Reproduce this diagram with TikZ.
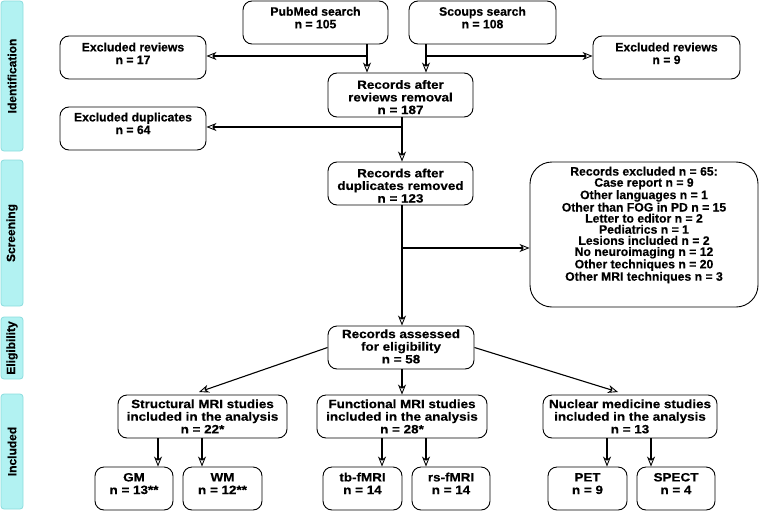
\documentclass[tikz,border=0pt]{standalone}
\usepackage{fontspec}
\setmainfont{Liberation Sans}[BoldFeatures={FakeBold=0.4}]
\newfontfamily\widefont{Liberation Sans}[FakeStretch=1.12,BoldFeatures={FakeBold=0.4}]
\usetikzlibrary{arrows.meta,calc}
\definecolor{barfill}{RGB}{178,242,242}
\definecolor{barline}{RGB}{140,220,222}
\begin{document}
\begin{tikzpicture}[x=1pt,y=-1pt,
  box/.style={draw, rounded corners=9pt, line width=0.9pt, align=center, inner sep=0pt,
    font=\widefont\bfseries\fontsize{12}{12.6}\selectfont},
  exbox/.style={box, font=\bfseries\fontsize{12.2}{12.6}\selectfont},
  sz/.style 2 args={minimum width=#1pt, minimum height=#2pt},
  tp/.style 2 args={text height=#1pt, text depth=#2pt},
  bar/.style={draw=barline, fill=barfill, rounded corners=3pt, line width=0.8pt, inner sep=0pt,
    rotate=90, minimum height=22pt, font=\bfseries\fontsize{12}{12}\selectfont},
  arr/.style={line width=1.1pt, -{Stealth[open, length=10pt, width=8pt, inset=3pt, line width=0.9pt]}}
]
\useasboundingbox (0,0) rectangle (759,511);

% side bars
\node[bar, minimum width=150pt] (bid) at (12,76) {Identification};
\node[bar, minimum width=146pt] (bsc) at (12,233) {Screening};
\node[bar, minimum width=62pt] (bel) at (12,348) {Eligibility};
\node[bar, minimum width=115pt] (bin) at (12,451.5) {Included};

% boxes
\node[exbox, sz={145}{43}, tp={20}{8.4}] (pub) at (315.5,22.5) {PubMed search\\n = 105};
\node[exbox, sz={147}{43}, tp={20}{8.4}] (sco) at (482.5,22.5) {Scoups search\\n = 108};
\node[exbox, sz={146}{43}, tp={22}{9}] (exl) at (133,57.5) {Excluded reviews\\n = 17};
\node[exbox, sz={147}{43}, tp={22}{9}] (exr) at (666.5,57.5) {Excluded reviews\\n = 9};
\node[box, sz={145}{44}, tp={40}{2}] (rr) at (400.5,95) {Records after\\reviews removal\\n = 187};
\node[exbox, sz={146}{43}, tp={21}{10}] (exd) at (133,128.5) {Excluded duplicates\\n = 64};
\node[box, sz={145}{43}, tp={40}{2}] (rd) at (400.5,183.5) {Records after\\duplicates removed\\n = 123};
\node[exbox, rounded corners=22pt, sz={228}{145}, font=\bfseries\fontsize{12.2}{11.1}\selectfont,
  tp={110}{17.6}] (rex) at (644,234.5)
  {Records excluded n = 65:\\Case report n = 9\\Other languages n = 1\\Other than FOG in PD n = 15\\Letter to editor n = 2\\Pediatrics n = 1\\Lesions included n = 2\\No neuroimaging n = 12\\Other techniques n = 20\\Other MRI techniques n = 3};
\node[box, sz={146}{43}, tp={34}{2.4}] (as) at (401,347.5) {Records assessed\\for eligibility\\n = 58};
\node[box, sz={169}{43}, tp={36}{2.4}] (st) at (202.5,416.5) {Structural MRI studies\\included in the analysis\\n = 22*};
\node[box, sz={170}{43}, tp={36}{2.4}] (fu) at (402,416.5) {Functional MRI studies\\included in the analysis\\n = 28*};
\node[box, sz={174}{43}, tp={36}{2.4}] (nu) at (630,416.5) {Nuclear medicine studies\\included in the analysis\\n = 13};
\node[box, sz={78}{43}, tp={22}{11}] (gm) at (134,488.5) {GM\\n = 13**};
\node[box, sz={79}{43}, tp={22}{11}] (wm) at (222.5,488.5) {WM\\n = 12**};
\node[box, sz={79}{43}, tp={22}{11}] (tb) at (362.5,488.5) {tb-fMRI\\n = 14};
\node[box, sz={78}{43}, tp={22}{11}] (rs) at (451,488.5) {rs-fMRI\\n = 14};
\node[box, sz={79}{43}, tp={22}{11}] (pet) at (587.5,488.5) {PET\\n = 9};
\node[box, sz={78}{43}, tp={22}{11}] (spe) at (676,488.5) {SPECT\\n = 4};

% junctions
\coordinate (j1) at (367,56);
\coordinate (j2) at (426,56);
\coordinate (j3) at (402,127);
\coordinate (j4) at (402,248);
\coordinate (tst) at (199,392);
\coordinate (tnu) at (618,392);
\coordinate (k1) at (158,450);
\coordinate (k2) at (202,450);
\coordinate (k3) at (382,450);
\coordinate (k4) at (426,450);
\coordinate (k5) at (607,450);
\coordinate (k6) at (651,450);

% connectors
\draw[arr] (pub.south -| j1) -- (rr.north -| j1);
\draw[arr] (j1) -- (j1 -| exl.east);
\draw[arr] (sco.south -| j2) -- (rr.north -| j2);
\draw[arr] (j2) -- (j2 -| exr.west);
\draw[arr] (rr.south -| j3) -- (rd.north -| j3);
\draw[arr] (j3) -- (j3 -| exd.east);
\draw[arr] (rd.south -| j4) -- (as.north -| j4);
\draw[arr] (j4) -- (j4 -| rex.west);
\draw[arr] (as.south -| j4) -- (fu.north -| j4);
\draw[arr] (as.west) -- (tst);
\draw[arr] (as.east) -- (tnu);
\draw[arr] (st.south -| k1) -- (gm.north -| k1);
\draw[arr] (st.south -| k2) -- (wm.north -| k2);
\draw[arr] (fu.south -| k3) -- (tb.north -| k3);
\draw[arr] (fu.south -| k4) -- (rs.north -| k4);
\draw[arr] (nu.south -| k5) -- (pet.north -| k5);
\draw[arr] (nu.south -| k6) -- (spe.north -| k6);
\end{tikzpicture}
\end{document}
